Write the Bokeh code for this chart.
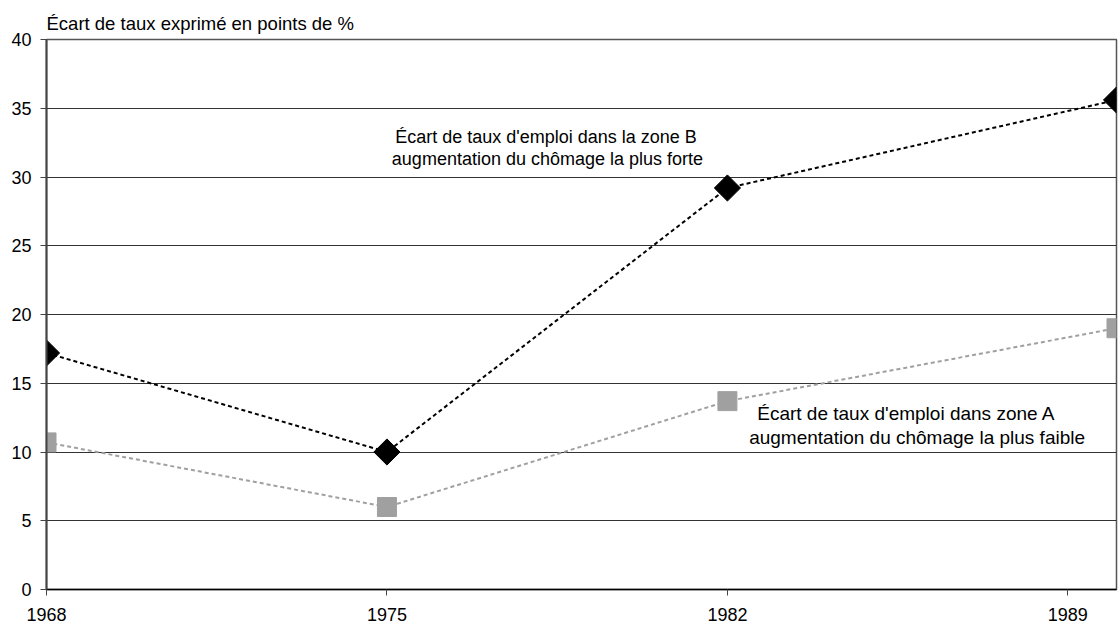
import math
from bokeh.plotting import figure
from bokeh.models import FixedTicker, Label, Range1d
from bokeh.embed import file_html
from bokeh.resources import INLINE

years = [1968, 1975, 1982, 1990]
zone_b = [17.2, 10.0, 29.2, 35.6]
zone_a = [10.7, 6.0, 13.7, 19.0]
x_ticks = [1968, 1975, 1982, 1989]
y_ticks = [0, 5, 10, 15, 20, 25, 30, 35, 40]

FONT = "Liberation Sans"

p = figure(width=1118, height=626, output_backend="svg", toolbar_location=None,
           x_range=Range1d(1968, 1990), y_range=Range1d(0, 40),
           min_border_left=46, min_border_right=2, min_border_top=39, min_border_bottom=37)

p.title.text = "Écart de taux exprimé en points de %"
p.title.text_font = FONT
p.title.text_font_size = "18.5px"
p.title.text_font_style = "normal"
p.title.text_color = "black"
p.title.align = "left"
p.title.offset = 0
p.title.standoff = 12

p.outline_line_color = "#555555"
p.outline_line_width = 1.5
p.background_fill_color = "white"
p.border_fill_color = "white"

p.xgrid.grid_line_color = None
p.ygrid.grid_line_color = "#333333"
p.ygrid.grid_line_width = 1

p.xaxis.major_label_text_font = FONT
p.yaxis.major_label_text_font = FONT
p.xaxis.major_label_text_font_size = "18px"
p.yaxis.major_label_text_font_size = "18px"
p.xaxis.major_label_text_color = "black"
p.yaxis.major_label_text_color = "black"
p.xaxis.major_tick_in = 0
p.yaxis.major_tick_in = 0
p.xaxis.major_tick_out = 6
p.yaxis.major_tick_out = 6
p.xaxis.minor_tick_line_color = None
p.yaxis.minor_tick_line_color = None
p.xaxis.major_tick_line_color = "#444444"
p.yaxis.major_tick_line_color = "#444444"

p.xaxis.ticker = FixedTicker(ticks=x_ticks)
p.yaxis.ticker = FixedTicker(ticks=y_ticks)
p.xaxis.axis_line_color = "black"
p.xaxis.axis_line_width = 1.5
p.yaxis.axis_line_color = "#444444"
p.yaxis.axis_line_width = 2
p.xaxis.major_label_standoff = 12
p.yaxis.major_label_standoff = 9

p.line(years, zone_a, line_color="#a0a0a0", line_width=2, line_dash="4 3")
p.line(years, zone_b, line_color="black", line_width=2, line_dash="4 3")
p.scatter(years, zone_a, marker="square", size=19, fill_color="#a0a0a0", line_color="#a0a0a0")
p.scatter(years, zone_b, marker="square", size=18.5, angle=math.pi / 4,
          fill_color="black", line_color="black")

ann = [
    (1978.27, 32.9, "Écart de taux d'emploi dans la zone B", "18px"),
    (1978.3, 31.3, "augmentation du chômage la plus forte", "18px"),
    (1985.68, 12.8, "Écart de taux d'emploi dans zone A", "19px"),
    (1985.9, 11.05, "augmentation du chômage la plus faible", "19px"),
]
for x, y, t, fs in ann:
    p.add_layout(Label(x=x, y=y, text=t, text_font=FONT, text_font_size=fs,
                       text_align="center", text_baseline="middle", text_color="black"))

open("out.html", "w").write(file_html(p, INLINE))
